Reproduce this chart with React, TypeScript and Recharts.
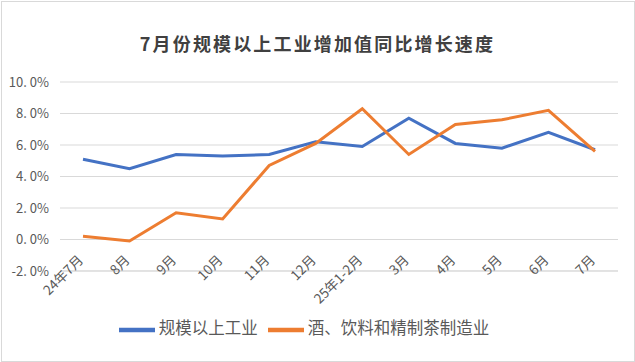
import { CartesianGrid, Legend, Line, LineChart, XAxis, YAxis } from "recharts";

const months = [
  "24年7月",
  "8月",
  "9月",
  "10月",
  "11月",
  "12月",
  "25年1-2月",
  "3月",
  "4月",
  "5月",
  "6月",
  "7月",
];

// 规模以上工业
const industryGrowth = [5.1, 4.5, 5.4, 5.3, 5.4, 6.2, 5.9, 7.7, 6.1, 5.8, 6.8, 5.7];
// 酒、饮料和精制茶制造业
const beverageGrowth = [0.2, -0.1, 1.7, 1.3, 4.7, 6.1, 8.3, 5.4, 7.3, 7.6, 8.2, 5.6];

const yTicks = [-2, 0, 2, 4, 6, 8, 10];

const FONT = "'Noto Sans CJK SC', 'Noto Sans', sans-serif";
const TEXT = "#595959";

function fmtPct(v: number): string {
  return v.toFixed(1).replace(".", ". ") + "%";
}

function MonthTick(props: any) {
  const { x, y, payload } = props;
  return (
    <g transform={`translate(${x + 1},${y - 18})`}>
      <text
        x={0}
        y={0}
        textAnchor="end"
        transform="rotate(-45)"
        fill={TEXT}
        fontSize={13.5}
        fontFamily={FONT}
      >
        {payload.value}
      </text>
    </g>
  );
}

export default function App() {
  const data = months.map((m, i) => ({
    name: m,
    industry: industryGrowth[i],
    beverage: beverageGrowth[i],
  }));

  return (
    <div
      style={{
        position: "absolute",
        left: 0,
        top: 0,
        width: 635,
        height: 362,
        background: "#fff",
        fontFamily: FONT,
      }}
    >
      <div
        style={{
          position: "absolute",
          left: 1,
          top: 1,
          width: 632,
          height: 359,
          border: "1px solid #d9d9d9",
          pointerEvents: "none",
        }}
      />
      <div
        style={{
          position: "absolute",
          top: 29,
          left: 0,
          width: 635,
          textAlign: "center",
          fontSize: 18,
          fontWeight: "bold",
          color: "#404040",
          letterSpacing: 2.15,
          lineHeight: "28px",
        }}
      >
        7月份规模以上工业增加值同比增长速度
      </div>
      <LineChart
        width={635}
        height={362}
        data={data}
        margin={{ top: 82, right: 17, left: 0, bottom: 0 }}
      >
        <CartesianGrid vertical={false} stroke="#d9d9d9" />
        <XAxis
          dataKey="name"
          axisLine={{ stroke: "#d9d9d9" }}
          tickLine={false}
          interval={0}
          height={41}
          padding={{ left: 23, right: 23 }}
          tick={<MonthTick />}
        />
        <YAxis
          domain={[-2, 10]}
          ticks={yTicks}
          tickFormatter={fmtPct}
          axisLine={false}
          tickLine={false}
          width={60}
          tick={{ fill: TEXT, fontSize: 13, fontFamily: FONT, dx: -3 }}
        />
        <Legend
          verticalAlign="bottom"
          iconType="plainline"
          iconSize={36}
          wrapperStyle={{ fontSize: 16.5, color: TEXT, fontFamily: FONT, paddingBottom: 14 }}
          formatter={(value: string) => <span style={{ color: TEXT }}>{value}</span>}
        />
        <Line
          type="linear"
          dataKey="industry"
          name="规模以上工业"
          stroke="#4472c4"
          strokeWidth={3}
          dot={false}
          isAnimationActive={false}
        />
        <Line
          type="linear"
          dataKey="beverage"
          name="酒、饮料和精制茶制造业"
          stroke="#ed7d31"
          strokeWidth={3}
          dot={false}
          isAnimationActive={false}
        />
      </LineChart>
    </div>
  );
}
